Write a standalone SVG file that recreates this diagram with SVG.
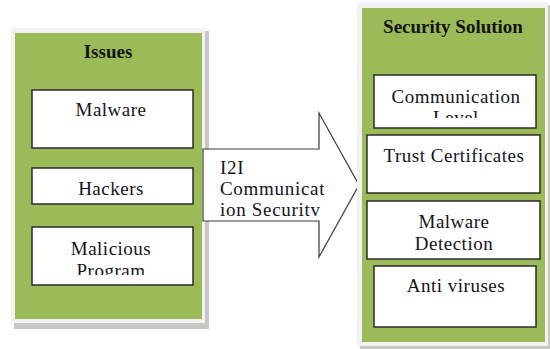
<svg xmlns="http://www.w3.org/2000/svg" width="550" height="349" viewBox="0 0 550 349">
<style>
.frame{fill:#f2f2f2}
.shadow{fill:#c4c8c0}
.panel{fill:#9bbb59}
.box{fill:#ffffff;stroke:#2b2b2b;stroke-width:1.5}
.t{font-family:"Liberation Serif",serif;font-size:19px;fill:#141420;text-anchor:middle;letter-spacing:0.5px}
.h{font-family:"Liberation Serif",serif;font-size:19px;font-weight:bold;fill:#141414;text-anchor:middle}
.at{font-family:"Liberation Serif",serif;font-size:19px;fill:#141420;letter-spacing:0.7px}
.arrow{fill:#ffffff;stroke:#3a3a3a;stroke-width:1.2}
</style>
<defs>
<clipPath id="cMal"><rect x="32" y="227" width="161" height="48"/></clipPath>
<clipPath id="cCom"><rect x="374" y="75" width="162" height="43"/></clipPath>
<clipPath id="cArr"><rect x="203" y="149" width="140" height="69"/></clipPath>
</defs>
<g id="issues">
<rect class="shadow" x="14" y="31" width="195" height="298"/>
<rect class="frame" x="11" y="28" width="194" height="295"/>
<rect class="panel" x="15" y="33" width="187" height="286"/>
<text class="h" x="108" y="58">Issues</text>
</g>
<g id="malware">
<rect class="box" x="32" y="90" width="161" height="58"/>
<text class="t" x="111" y="116">Malware</text>
</g>
<g id="hackers">
<rect class="box" x="32" y="168" width="161" height="36"/>
<text class="t" x="111" y="195">Hackers</text>
</g>
<g id="malicious">
<rect class="box" x="32" y="227" width="161" height="58"/>
<g clip-path="url(#cMal)">
<text class="t" x="111" y="255">Malicious</text>
<text class="t" x="111" y="277">Program</text>
</g>
</g>
<g id="connectors">
<g id="i2i">
<polygon class="arrow" points="203,149 319,149 319,113 359,185 319,257 319,221 203,221"/>
<g clip-path="url(#cArr)">
<text class="at" x="220" y="174">I2I</text>
<text class="at" x="220" y="195">Communicat</text>
<text class="at" x="220" y="216">ion Securitv</text>
</g>
</g>
</g>
<g id="solution">
<rect class="shadow" x="360" y="5" width="190" height="344"/>
<rect class="frame" x="357" y="2" width="191" height="344"/>
<rect class="panel" x="362" y="8" width="183" height="334"/>
<text class="h" x="453" y="33">Security Solution</text>
</g>
<g id="commlevel">
<rect class="box" x="374" y="75" width="162" height="53"/>
<g clip-path="url(#cCom)">
<text class="t" x="456" y="103">Communication</text>
<text class="t" x="456" y="124">Level</text>
</g>
</g>
<g id="trust">
<rect class="box" x="367" y="135" width="173" height="58"/>
<text class="t" x="454" y="162">Trust Certificates</text>
</g>
<g id="detection">
<rect class="box" x="367" y="201" width="173" height="58"/>
<text class="t" x="454" y="228">Malware</text>
<text class="t" x="454" y="250">Detection</text>
</g>
<g id="antivirus">
<rect class="box" x="374" y="266" width="162" height="61"/>
<text class="t" x="456" y="292">Anti viruses</text>
</g>
</svg>
